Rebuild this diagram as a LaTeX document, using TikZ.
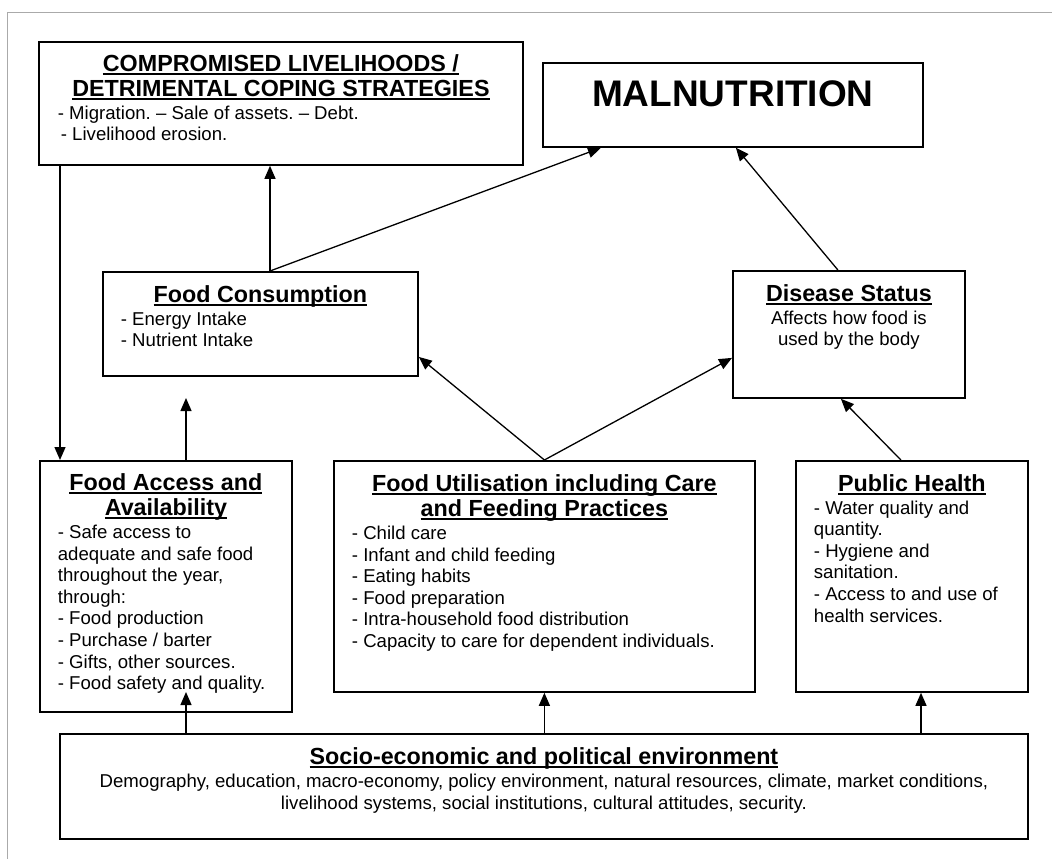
\documentclass[tikz,border=0pt]{standalone}
\usepackage{fontspec}
\setmainfont{Liberation Sans}
\usetikzlibrary{arrows.meta}
\usetikzlibrary{calc}

\definecolor{framegray}{RGB}{170,170,170}
\frenchspacing

\newcommand{\hdline}[1]{\leavevmode\setbox0\hbox{#1}\rlap{\rule[-3.5pt]{\wd0}{1.8pt}}\box0}
\newcommand{\headfont}{\bfseries\fontsize{23.3}{25.5}\selectfont}
\newcommand{\bodyfont}{\mdseries\fontsize{18.6}{21.6}\selectfont}

\tikzset{
	panel/.style={draw, line width=1.8pt, inner sep=0pt, anchor=north west},
	link/.style={line width=1.3pt, -{Triangle[length=13pt,width=11pt]}},
}

\begin{document}
\begin{tikzpicture}[x=1pt,y=-1pt]
	\useasboundingbox (0,0) rectangle (1052,859);
	
	% frame
	\draw[framegray, line width=1pt] (7,859) -- (7,12.5) -- (1052,12.5);
	
	% columns of the vertical arrows
	\coordinate (colA) at (60,0);
	\coordinate (colB) at (186,0);
	\coordinate (colC) at (270,0);
	\coordinate (colD) at (921,0);
	\coordinate (consIn) at (186,398);
	\coordinate (accIn) at (186,692);
	
	% top row
	\node[panel] (comp) at (38,41) {\parbox[c][123pt][t]{484pt}{\vspace*{12.5pt}\centering\headfont
		\hdline{COMPROMISED LIVELIHOODS /}\\ \hdline{DETRIMENTAL COPING STRATEGIES}\par
		\raggedright\leftskip=19pt\bodyfont\vspace{0.8pt}
		- Migration. – Sale of assets. – Debt.\\
		\hspace*{3pt}- Livelihood erosion.\par}};
	\node[panel] (maln) at (542,62) {\parbox[c][84pt][t]{380pt}{\vspace*{18pt}\centering
		\bfseries\fontsize{37}{40}\selectfont MALNUTRITION\par}};
	
	% middle row
	\node[panel] (cons) at (102,271) {\parbox[c][104pt][t]{315pt}{\vspace*{13.5pt}\centering\headfont
		\hdline{Food Consumption}\par
		\raggedright\leftskip=18pt\bodyfont\vspace{1.2pt}
		- Energy Intake\\
		- Nutrient Intake\par}};
	\node[panel] (dis) at (732,270) {\parbox[c][127pt][t]{232pt}{\vspace*{13.5pt}\centering\headfont
		\hdline{Disease Status}\par
		\bodyfont\vspace{1.2pt}
		Affects how food is\\
		used by the body\par}};
	
	% lower row
	\node[panel] (acc) at (39,460) {\parbox[c][251pt][t]{252pt}{\vspace*{12.5pt}\centering\headfont
		\hdline{Food Access and}\\ \hdline{Availability}\par
		\raggedright\leftskip=18pt\bodyfont\vspace{1.2pt}
		- Safe access to\\
		adequate and safe food\\
		throughout the year,\\
		through:\\
		- Food production\\
		- Purchase / barter\\
		- Gifts, other sources.\\
		- Food safety and quality.\par}};
	\node[panel] (util) at (333,460) {\parbox[c][231pt][t]{421pt}{\vspace*{13.5pt}\centering\headfont
		\hdline{Food Utilisation including Care}\\ \hdline{and Feeding Practices}\par
		\raggedright\leftskip=18pt\bodyfont\vspace{1.2pt}
		- Child care\\
		- Infant and child feeding\\
		- Eating habits\\
		- Food preparation\\
		- Intra-household food distribution\\
		- Capacity to care for dependent individuals.\par}};
	\node[panel] (pub) at (795,460) {\parbox[c][231pt][t]{232pt}{\vspace*{13.5pt}\centering\headfont
		\hdline{Public Health}\par
		\raggedright\leftskip=18pt\bodyfont\vspace{1.2pt}
		- Water quality and\\
		quantity.\\
		- Hygiene and\\
		sanitation.\\
		- Access to and use of\\
		health services.\par}};
	
	% bottom box
	\node[panel] (soc) at (59,733) {\parbox[c][105pt][t]{968pt}{\vspace*{14pt}\centering\headfont
		\hdline{Socio-economic and political environment}\par
		\bodyfont\vspace{1.2pt}
		Demography, education, macro-economy, policy environment, natural resources, climate, market conditions,\\
		livelihood systems, social institutions, cultural attitudes, security.\par}};
	
	% arrows
	\draw[link] (comp.south -| colA) -- (acc.north -| colA);
	\draw[link] (cons.north -| colC) -- (comp.south -| colC);
	\draw[link] (cons.north -| colC) -- ([xshift=-132pt]maln.south);
	\draw[link] ([xshift=-11pt]dis.north) -- ([xshift=3pt]maln.south);
	\draw[link] (acc.north -| colB) -- (consIn);
	\draw[link] (util.north) -- ([yshift=-33pt]cons.east);
	\draw[link] (util.north) -- ([yshift=-23.5pt]dis.west);
	\draw[link] ([xshift=-11pt]pub.north) -- ([xshift=-8pt]dis.south);
	\draw[link] (soc.north -| colB) -- (accIn);
	\draw[link] (soc.north -| util.south) -- (util.south);
	\draw[link] (soc.north -| colD) -- (pub.south -| colD);
\end{tikzpicture}
\end{document}
